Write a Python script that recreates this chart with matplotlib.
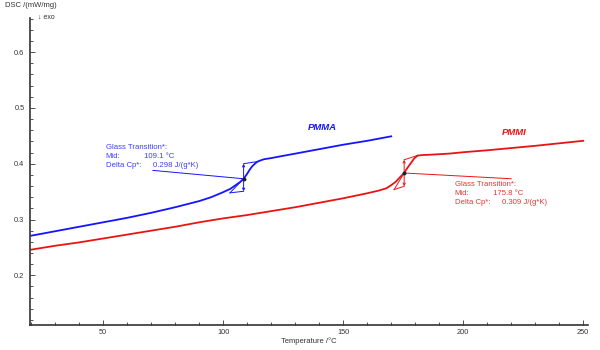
#!/usr/bin/env python3
"""DSC curves of PMMA and PMMI with glass transition evaluation."""

import matplotlib
matplotlib.use('Agg')
import matplotlib.pyplot as plt
from matplotlib.ticker import MultipleLocator

plt.rcParams['font.family'] = ['Liberation Sans', 'DejaVu Sans']

# PMMA (blue) curve
pmma_temp = [20, 30, 40, 50, 60, 70, 80, 90, 95, 100, 103, 105, 107, 108.5,
             110, 111, 112, 113, 114, 115, 117, 120, 123, 130, 140, 150, 160, 170]
pmma_dsc = [0.271, 0.279, 0.287, 0.295, 0.303, 0.312, 0.322, 0.333, 0.340, 0.349,
            0.355, 0.361, 0.367, 0.373, 0.382, 0.389, 0.395, 0.399, 0.403, 0.405,
            0.408, 0.410, 0.4125, 0.418, 0.426, 0.434, 0.441, 0.449]

# PMMI (red) curve
pmmi_temp = [20, 30, 40, 50, 60, 70, 80, 90, 100, 110, 120, 130, 140, 150, 160,
             165, 168, 170, 172, 173.5, 175.4, 177, 178.2, 179.5, 181, 183, 186,
             194, 200, 210, 220, 230, 240, 250]
pmmi_dsc = [0.246, 0.253, 0.259, 0.266, 0.273, 0.280, 0.287, 0.295, 0.302, 0.308,
            0.315, 0.322, 0.330, 0.338, 0.347, 0.352, 0.356, 0.3615, 0.368, 0.375,
            0.3835, 0.394, 0.401, 0.409, 0.4145, 0.4155, 0.416, 0.418, 0.4205,
            0.424, 0.428, 0.432, 0.4365, 0.441]

# Glass transition evaluation: inflection point, baseline start, step ends,
# upper baseline end, label anchor, leader line end, label values
pmma_tg = {"mid": (108.5, 0.373), "low": (102.8, 0.3477), "step": (0.3506, 0.400),
           "up_end": (114.7, 0.404), "text": (51.0, 0.4286), "leader": (70.7, 0.388),
           "mid_label": "109.1 °C", "cp_label": "0.298 J/(g*K)"}
pmmi_tg = {"mid": (175.4, 0.3833), "low": (171.2, 0.3536), "step": (0.3595, 0.407),
           "up_end": (181.0, 0.4148), "text": (196.4, 0.3625), "leader": (220.0, 0.373),
           "mid_label": "175.8 °C", "cp_label": "0.309 J/(g*K)"}


def draw_tg(ax, tg, color, text_color):
    mx, my = tg["mid"]
    lx, ly = tg["low"]
    y0, y1 = tg["step"]
    lw = 0.7
    # extrapolated baselines and inflection tangent
    ax.plot([lx, mx], [ly, y0], color=color, lw=lw)
    ax.plot([lx, mx], [ly, my], color=color, lw=lw)
    ax.plot([mx, tg["up_end"][0]], [y1, tg["up_end"][1]], color=color, lw=lw)
    # step height with arrows
    ax.annotate('', xy=(mx, y1), xytext=(mx, y0),
                arrowprops=dict(arrowstyle='<->', color=color, lw=lw,
                                mutation_scale=4, shrinkA=0, shrinkB=0))
    ax.plot([mx], [my], 'o', color='#202020', ms=1.8, zorder=5)
    # leader line to label
    ax.plot([tg["leader"][0], mx], [tg["leader"][1], my], color=color, lw=lw)
    tx, ty = tg["text"]
    dy = 0.0162
    kw = dict(fontsize=5.6, color=text_color, va='center', ha='left')
    ax.text(tx, ty, "Glass Transition*:", **kw)
    ax.text(tx, ty - dy, "Mid:", **kw)
    ax.text(tx + 16.2, ty - dy, tg["mid_label"], **kw)
    ax.text(tx, ty - 2 * dy, "Delta Cp*:", **kw)
    ax.text(tx + 19.7, ty - 2 * dy, tg["cp_label"], **kw)


fig = plt.figure(figsize=(6, 3.5), dpi=100)
fig.patch.set_facecolor('white')
ax = fig.add_axes([0.05, 0.0714, 0.93, 0.8772])

ax.plot(pmma_temp, pmma_dsc, color='#1414ff', lw=1.3)
ax.plot(pmmi_temp, pmmi_dsc, color='#e81414', lw=1.3)

draw_tg(ax, pmma_tg, '#1414ff', '#3c3cff')
draw_tg(ax, pmmi_tg, '#e81414', '#e83434')

ax.text(141.1, 0.4648, "PMMA", color='#1414ff', fontsize=6.8, fontweight='bold',
        style='italic', ha='center', va='center')
ax.text(221.2, 0.4566, "PMMI", color='#e81414', fontsize=6.8, fontweight='bold',
        style='italic', ha='center', va='center')

ax.set_xlim(19.5, 252)
ax.set_ylim(0.111, 0.661)
ax.xaxis.set_major_locator(MultipleLocator(50))
ax.xaxis.set_minor_locator(MultipleLocator(10))
ax.yaxis.set_major_locator(MultipleLocator(0.1))
ax.yaxis.set_minor_locator(MultipleLocator(0.02))
ax.tick_params(which='both', direction='in', labelsize=5.3, colors='#333333', width=0.6)
ax.tick_params(which='major', length=3.5)
ax.tick_params(which='minor', length=2)
ax.tick_params(axis='x', pad=3)
ax.tick_params(axis='y', pad=4)
for side in ('top', 'right'):
    ax.spines[side].set_visible(False)
for side in ('left', 'bottom'):
    ax.spines[side].set_linewidth(1.2)
    ax.spines[side].set_color('#333333')

fig.text(0.052, 0.983, "DSC /(mW/mg)", fontsize=5.5, color='#333333', ha='center', va='center')
fig.text(0.063, 0.949, "\u2193 exo", fontsize=5, color='#333333', ha='left', va='center')
fig.text(0.514, 0.026, "Temperature /\u00b0C", fontsize=5.5, color='#333333', ha='center', va='center')

plt.savefig('out.png', dpi=100, facecolor='white')
plt.close()
